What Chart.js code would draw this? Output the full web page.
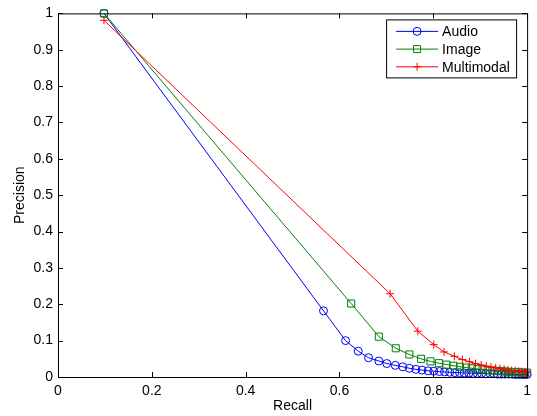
<!DOCTYPE html>
<html>
<head>
<meta charset="utf-8">
<script src="https://cdn.jsdelivr.net/npm/chart.js@4/dist/chart.umd.min.js"></script>
<style>
  body { margin: 0; background: #fff; }
  #wrap { position: relative; width: 537px; height: 416px; }
</style>
</head>
<body>
<div id="wrap"><canvas id="prChart" width="537" height="416"></canvas></div>
<script>
// recall / precision
const audioRecall = [0.098, 0.566, 0.613, 0.640, 0.662, 0.684, 0.701, 0.719, 0.735, 0.749, 0.763, 0.776, 0.789, 0.801, 0.813, 0.824, 0.835, 0.846, 0.856, 0.866, 0.876, 0.885, 0.894, 0.903, 0.912, 0.921, 0.929, 0.937, 0.945, 0.953, 0.961, 0.968, 0.975, 0.982, 0.989, 0.995, 1.0];
const audioPrecision = [1.0, 0.182, 0.100, 0.071, 0.053, 0.044, 0.037, 0.032, 0.028, 0.024, 0.021, 0.019, 0.017, 0.016, 0.015, 0.014, 0.013, 0.012, 0.012, 0.011, 0.011, 0.010, 0.010, 0.010, 0.009, 0.009, 0.009, 0.008, 0.008, 0.008, 0.008, 0.008, 0.007, 0.007, 0.007, 0.007, 0.007];

const imageRecall = [0.098, 0.625, 0.684, 0.720, 0.749, 0.774, 0.794, 0.812, 0.828, 0.843, 0.857, 0.870, 0.882, 0.894, 0.905, 0.916, 0.926, 0.936, 0.946, 0.955, 0.964, 0.973, 0.982, 0.991, 1.0];
const imagePrecision = [1.0, 0.202, 0.111, 0.079, 0.062, 0.050, 0.043, 0.038, 0.034, 0.031, 0.028, 0.026, 0.024, 0.022, 0.021, 0.019, 0.018, 0.017, 0.016, 0.015, 0.014, 0.013, 0.013, 0.012, 0.012];

const multiRecall = [0.098, 0.708, 0.767, 0.801, 0.823, 0.845, 0.862, 0.877, 0.890, 0.902, 0.913, 0.923, 0.933, 0.942, 0.951, 0.959, 0.967, 0.975, 0.982, 0.989, 0.995, 1.0];
const multiPrecision = [0.981, 0.229, 0.126, 0.089, 0.069, 0.057, 0.048, 0.042, 0.037, 0.033, 0.030, 0.027, 0.025, 0.023, 0.021, 0.019, 0.018, 0.017, 0.016, 0.015, 0.014, 0.013];

const seriesNames = ["Audio", "Image", "Multimodal"];
const xTickValues = [0, 0.2, 0.4, 0.6, 0.8, 1];
const yTickValues = [0, 0.1, 0.2, 0.3, 0.4, 0.5, 0.6, 0.7, 0.8, 0.9, 1];

function toPoints(xs, ys) {
    return xs.map((x, i) => ({x: x, y: ys[i]}));
}

const styles = [
    {color: '#0000ff', shape: 'circle', radius: 4},
    {color: '#008000', shape: 'rect', radius: 5},
    {color: '#ff0000', shape: 'cross', radius: 4}
];

// MATLAB style box, inward ticks, and legend in the top-right corner
const matlabFrame = {
    id: 'matlabFrame',
    afterDraw(chart) {
        const ctx = chart.ctx;
        const a = chart.chartArea;
        const xs = chart.scales.x, ys = chart.scales.y;
        ctx.save();
        ctx.strokeStyle = '#000';
        ctx.lineWidth = 1;
        ctx.strokeRect(a.left + 0.5, a.top + 0.5, a.right - a.left, a.bottom - a.top);
        ctx.beginPath();
        xTickValues.forEach(v => {
            const px = Math.round(xs.getPixelForValue(v)) + 0.5;
            ctx.moveTo(px, a.bottom); ctx.lineTo(px, a.bottom - 5);
            ctx.moveTo(px, a.top); ctx.lineTo(px, a.top + 5);
        });
        yTickValues.forEach(v => {
            const py = Math.round(ys.getPixelForValue(v)) + 0.5;
            ctx.moveTo(a.left, py); ctx.lineTo(a.left + 5, py);
            ctx.moveTo(a.right, py); ctx.lineTo(a.right - 5, py);
        });
        ctx.stroke();

        // legend
        const bx = a.right - 141, by = a.top + 6, bw = 130, bh = 58;
        ctx.fillStyle = '#fff';
        ctx.fillRect(bx, by, bw, bh);
        ctx.strokeRect(bx + 0.5, by + 0.5, bw, bh);
        ctx.font = '14px "Liberation Sans", Arial, sans-serif';
        ctx.textBaseline = 'middle';
        seriesNames.forEach((name, i) => {
            const y = by + 12 + i * 17.7;
            const st = styles[i];
            ctx.strokeStyle = st.color;
            ctx.beginPath();
            ctx.moveTo(bx + 10, y); ctx.lineTo(bx + 52, y);
            ctx.stroke();
            const mx = bx + 31;
            ctx.beginPath();
            if (st.shape === 'circle') {
                ctx.arc(mx, y, st.radius, 0, Math.PI * 2);
            } else if (st.shape === 'rect') {
                ctx.rect(mx - 3.5, y - 3.5, 7, 7);
            } else {
                ctx.moveTo(mx - st.radius, y); ctx.lineTo(mx + st.radius, y);
                ctx.moveTo(mx, y - st.radius); ctx.lineTo(mx, y + st.radius);
            }
            ctx.stroke();
            ctx.fillStyle = '#000';
            ctx.fillText(name, bx + 56, y + 1);
        });
        ctx.restore();
    }
};

const allData = [
    toPoints(audioRecall, audioPrecision),
    toPoints(imageRecall, imagePrecision),
    toPoints(multiRecall, multiPrecision)
];

const ctx = document.getElementById('prChart').getContext('2d');
Chart.defaults.font.family = '"Liberation Sans", Arial, sans-serif';
Chart.defaults.font.size = 14;
Chart.defaults.color = '#000';

new Chart(ctx, {
    type: 'scatter',
    data: {
        datasets: allData.map((pts, i) => ({
            label: seriesNames[i],
            data: pts,
            showLine: true,
            borderColor: styles[i].color,
            backgroundColor: 'rgba(0,0,0,0)',
            borderWidth: 1,
            pointStyle: styles[i].shape,
            pointRadius: styles[i].radius,
            pointBorderColor: styles[i].color,
            pointBackgroundColor: 'rgba(0,0,0,0)',
            pointBorderWidth: 1,
            order: 2 - i,
            clip: false
        }))
    },
    options: {
        responsive: false,
        animation: false,
        layout: {
            autoPadding: false,
            padding: {top: 9, right: 9, left: 0, bottom: 0}
        },
        scales: {
            x: {
                type: 'linear',
                min: 0,
                max: 1,
                afterBuildTicks: scale => { scale.ticks = xTickValues.map(v => ({value: v})); },
                afterFit: scale => { scale.height = 39; },
                ticks: {
                    padding: 6,
                    maxRotation: 0,
                    callback: v => String(Math.round(v * 10) / 10)
                },
                grid: {display: false, drawTicks: false},
                border: {display: false},
                title: {
                    display: true,
                    text: 'Recall',
                    padding: {top: 0, bottom: 1}
                }
            },
            y: {
                type: 'linear',
                min: 0,
                max: 1,
                afterBuildTicks: scale => { scale.ticks = yTickValues.map(v => ({value: v})); },
                afterFit: scale => { scale.width = 58; },
                ticks: {
                    padding: 5,
                    callback: v => String(Math.round(v * 10) / 10)
                },
                grid: {display: false, drawTicks: false},
                border: {display: false},
                title: {
                    display: true,
                    text: 'Precision',
                    padding: {top: 12, bottom: 0}
                }
            }
        },
        plugins: {
            legend: {display: false},
            tooltip: {enabled: false}
        }
    },
    plugins: [matlabFrame]
});
</script>
</body>
</html>
